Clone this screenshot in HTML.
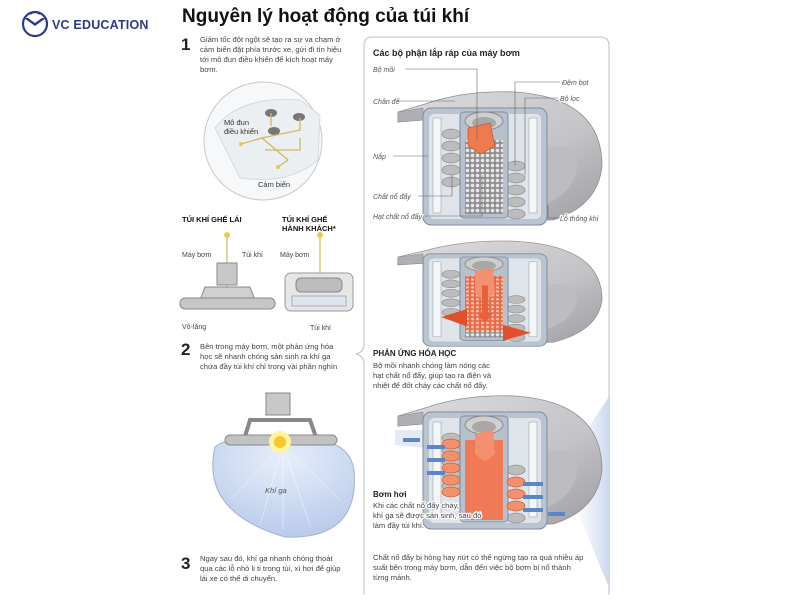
<!DOCTYPE html>
<html><head><meta charset="utf-8">
<style>
html,body{margin:0;padding:0;background:#fff;}
body{width:800px;height:600px;overflow:hidden;font-family:"Liberation Sans","Noto Sans CJK SC",sans-serif;}
svg text{font-family:"Liberation Sans","Noto Sans CJK SC",sans-serif;}
.halo{paint-order:stroke;stroke:#fff;stroke-width:2.5px;stroke-linejoin:round;}
</style></head><body>
<svg width="800" height="600" viewBox="0 0 800 600" xmlns="http://www.w3.org/2000/svg">
<defs>
<pattern id="pel" width="5" height="5" patternUnits="userSpaceOnUse">
<rect width="5" height="5" fill="#8f8f8f"/><circle cx="2.5" cy="2.5" r="1.8" fill="#e8e8e8"/>
</pattern>
<pattern id="pelr" width="5" height="5" patternUnits="userSpaceOnUse">
<rect width="5" height="5" fill="#e86a48"/><circle cx="2.5" cy="2.5" r="1.6" fill="#f8c0aa"/>
</pattern>
<radialGradient id="bag" cx="50%" cy="20%" r="80%">
<stop offset="0" stop-color="#e6eefb"/><stop offset="1" stop-color="#b9cbea"/>
</radialGradient>
<linearGradient id="disk" x1="0" y1="0" x2="1" y2="1">
<stop offset="0" stop-color="#dcdcde"/><stop offset="0.6" stop-color="#c4c4c7"/><stop offset="1" stop-color="#9d9da2"/>
</linearGradient>
<linearGradient id="cone" x1="1" y1="0" x2="0" y2="0">
<stop offset="0" stop-color="#c9d6ee"/><stop offset="1" stop-color="#ffffff" stop-opacity="0"/>
</linearGradient>
<g id="inf">
<path d="M3,24 L30,16 Q70,2 120,4 Q207,10 207,78 Q203,118 158,132 L152,132 L152,40 L28,40 L28,32 L3,34 Z" fill="url(#disk)" stroke="#8d8d92" stroke-width="0.8"/>
<path d="M152,60 Q182,52 182,80 Q178,105 152,115 Z" fill="#bdbdc1"/>
<path d="M3,24 L28,20 L28,32 L3,34 Z" fill="#b0b0b4" stroke="#8d8d92" stroke-width=".6"/>
<rect x="28" y="20" width="124" height="117" rx="8" fill="#b9c4d0" stroke="#7f8c9b"/>
<rect x="34" y="26" width="112" height="105" rx="5" fill="#dfe4ea"/>
<rect x="38" y="30" width="8" height="95" fill="#f4f5f7" stroke="#9aa6b3" stroke-width=".6"/>
<rect x="134" y="30" width="8" height="95" fill="#f4f5f7" stroke="#9aa6b3" stroke-width=".6"/>
<g fill="#bcbcbc" stroke="#808080" stroke-width=".6">
<ellipse cx="56" cy="46" rx="9" ry="5"/><ellipse cx="56" cy="58" rx="9" ry="5"/><ellipse cx="56" cy="70" rx="9" ry="5"/><ellipse cx="56" cy="82" rx="9" ry="5"/><ellipse cx="56" cy="94" rx="9" ry="5"/>
<ellipse cx="121" cy="78" rx="9" ry="5"/><ellipse cx="121" cy="90" rx="9" ry="5"/><ellipse cx="121" cy="102" rx="9" ry="5"/><ellipse cx="121" cy="114" rx="9" ry="5"/><ellipse cx="121" cy="126" rx="9" ry="5"/>
</g>
<rect x="65" y="24" width="48" height="106" rx="4" fill="#b6c1cd" stroke="#7f8c9b"/>
<rect x="70" y="52" width="38" height="74" fill="url(#pel)"/>
<ellipse cx="89" cy="33" rx="19" ry="9" fill="#cfcfcf" stroke="#8a8a8a"/>
<ellipse cx="89" cy="35" rx="12" ry="6" fill="#a8a8a8"/>
</g>
</defs>

<circle cx="35" cy="24" r="12" fill="none" stroke="#2b3a8c" stroke-width="2.2"/>
<path d="M24,18 L35,26 L46,18 L42,18 L35,23 L28,18 Z" fill="#2b3a8c"/>
<path d="M30,14 Q35,10 40,14" fill="none" stroke="#2b3a8c" stroke-width="2"/>
<text x="52" y="29" font-size="12.5" fill="#2b3a8c" font-weight="bold" letter-spacing=".2">VC EDUCATION</text>

<text x="182" y="22" font-size="19" font-weight="bold" fill="#111">Nguyên lý hoạt động của túi khí</text>

<path d="M372,37 L600,37 Q609,37 609,46 L609,595 M372,37 Q364,37 364,46 L364,344 Q364,352 356,354 Q364,356 364,364 L364,595" fill="none" stroke="#bfbfbf" stroke-width="1"/>

<text x="181" y="50" font-size="17" font-weight="bold" fill="#222">1</text>
<g font-size="7.6" fill="#444">
<text x="200" y="42">Giảm tốc đột ngột sẽ tạo ra sự va chạm ở</text>
<text x="200" y="52">cảm biến đặt phía trước xe, gửi đi tín hiệu</text>
<text x="200" y="62">tới mô đun điều khiển để kích hoạt máy</text>
<text x="200" y="72">bơm.</text>
</g>
<circle cx="263" cy="141" r="59" fill="#f7f8f9" stroke="#c8c8c8"/>
<path d="M215,128 Q240,95 300,100 L320,115 L318,160 Q290,185 240,178 Z" fill="#eceff2" stroke="#d6d9dd"/>
<ellipse cx="271" cy="113" rx="6" ry="4" fill="#777"/><ellipse cx="299" cy="117" rx="6" ry="4" fill="#777"/><ellipse cx="274" cy="131" rx="6" ry="4" fill="#777"/>
<g fill="none" stroke="#d2b860" stroke-width="1.3">
<path d="M241,144 L262,138 L288,160 L278,167 M262,138 L300,130 L300,118 M265,150 L300,150 L300,138 M271,113 L271,126"/>
</g>
<circle cx="241" cy="144" r="2" fill="#e8c84a"/><circle cx="278" cy="167" r="2" fill="#e8c84a"/>
<text x="224" y="125" font-size="7.5" fill="#333">Mô đun</text>
<text x="224" y="134" font-size="7.5" fill="#333">điều khiển</text>
<text x="258" y="187" font-size="7.5" fill="#333">Cảm biến</text>

<text x="182" y="222" font-size="7.5" font-weight="bold" fill="#111">TÚI KHÍ GHẾ LÁI</text>
<text x="282" y="222" font-size="7.5" font-weight="bold" fill="#111">TÚI KHÍ GHẾ</text>
<text x="282" y="231" font-size="7.5" font-weight="bold" fill="#111">HÀNH KHÁCH*</text>
<g font-size="7" fill="#444">
<text x="182" y="257">Máy bơm</text><text x="242" y="257">Túi khí</text>
<text x="280" y="257">Máy bơm</text>
<text x="182" y="329">Vô-lăng</text><text x="310" y="330">Túi khí</text>
</g>
<line x1="227" y1="236" x2="227" y2="295" stroke="#c8a840" stroke-width="1"/>
<circle cx="227" cy="235" r="3" fill="#f0c84a"/>
<rect x="217" y="263" width="20" height="22" fill="#c8c8c8" stroke="#888"/>
<path d="M200,300 L205,287 L250,287 L255,300 Z" fill="#d0d0d0" stroke="#888"/>
<rect x="180" y="298" width="95" height="11" rx="5" fill="#c6c6c6" stroke="#888"/>
<line x1="320" y1="236" x2="320" y2="278" stroke="#c8a840" stroke-width="1"/>
<circle cx="320" cy="235" r="3" fill="#f0c84a"/>
<rect x="285" y="273" width="68" height="38" rx="6" fill="#e6e6e6" stroke="#999"/>
<rect x="296" y="278" width="46" height="14" rx="5" fill="#bdbdbd" stroke="#888"/>
<rect x="292" y="296" width="54" height="10" fill="#dde4ee" stroke="#aab"/>

<text x="181" y="355" font-size="17" font-weight="bold" fill="#222">2</text>
<g font-size="7.6" fill="#444">
<text x="200" y="349">Bên trong máy bơm, một phản ứng hóa</text>
<text x="200" y="359">học sẽ nhanh chóng sản sinh ra khí ga</text>
<text x="200" y="369">chứa đầy túi khí chỉ trong vài phần nghìn</text>
</g>
<path d="M215,447 Q200,512 285,537 Q360,540 354,470 Q350,445 320,440 L245,440 Q222,440 215,447 Z" fill="url(#bag)" stroke="#9fb3d6"/>
<g stroke="#fff" stroke-width=".5" opacity=".8">
<line x1="283" y1="445" x2="230" y2="500"/><line x1="283" y1="445" x2="260" y2="525"/><line x1="283" y1="445" x2="283" y2="530"/><line x1="283" y1="445" x2="310" y2="525"/><line x1="283" y1="445" x2="340" y2="500"/>
</g>
<rect x="266" y="393" width="24" height="22" fill="#c8c8c8" stroke="#888"/>
<path d="M243,443 L250,420 L310,420 L318,443 Z" fill="none" stroke="#888" stroke-width="4"/>
<rect x="225" y="435" width="112" height="10" rx="5" fill="#c2c2c2" stroke="#888"/>
<circle cx="280" cy="442" r="11" fill="#fff3a0"/>
<circle cx="280" cy="442" r="6" fill="#f5c830"/>
<text x="265" y="493" font-size="7.5" font-style="italic" fill="#555">Khí ga</text>

<text x="181" y="569" font-size="17" font-weight="bold" fill="#222">3</text>
<g font-size="7.6" fill="#444">
<text x="200" y="561">Ngay sau đó, khí ga nhanh chóng thoát</text>
<text x="200" y="571">qua các lỗ nhỏ li ti trong túi, xì hơi để giúp</text>
<text x="200" y="581">lái xe có thể di chuyển.</text>
</g>

<text x="373" y="56" font-size="9" font-weight="bold" fill="#222">Các bộ phận lắp ráp của máy bơm</text>

<g transform="translate(395,88)">
<use href="#inf"/>
<path d="M73,40 L95,35 L100,58 L86,66 L73,58 Z" fill="#f07a50" stroke="#c04a20" stroke-width=".6"/>
</g>

<g transform="translate(395,238) scale(1,0.79)">
<use href="#inf"/>
<rect x="70" y="48" width="38" height="70" fill="url(#pelr)"/>
<path d="M80,42 L98,38 L100,70 L90,80 L80,70 Z" fill="#f39070"/>
<path d="M87,60 L93,60 L93,95 L98,95 L90,108 L82,95 L87,95 Z" fill="#e8603a"/>
<path d="M46,100 L72,90 L72,112 Z" fill="#e0502c"/><path d="M136,120 L108,110 L108,130 Z" fill="#e0502c"/>
</g>

<path d="M560,470 L610,395 L610,590 Z" fill="url(#cone)"/>
<path d="M395,430 L425,430 L425,448 L395,445 Z" fill="#e3eaf6"/>
<g transform="translate(395,392)">
<use href="#inf"/>
<path d="M70,48 L108,48 L108,128 L70,128 Z" fill="#f07a55"/>
<path d="M80,42 L98,38 L100,62 L90,70 L80,62 Z" fill="#f39070"/>
<g fill="#f5906a" stroke="#c0502c" stroke-width=".6">
<ellipse cx="56" cy="52" rx="9" ry="5"/><ellipse cx="56" cy="64" rx="9" ry="5"/><ellipse cx="56" cy="76" rx="9" ry="5"/><ellipse cx="56" cy="88" rx="9" ry="5"/><ellipse cx="56" cy="100" rx="9" ry="5"/>
<ellipse cx="121" cy="90" rx="9" ry="5"/><ellipse cx="121" cy="102" rx="9" ry="5"/><ellipse cx="121" cy="114" rx="9" ry="5"/>
</g>
<g stroke="#5d86c7" stroke-width="4" fill="none">
<line x1="50" y1="55" x2="32" y2="55"/><line x1="50" y1="68" x2="32" y2="68"/><line x1="50" y1="81" x2="32" y2="81"/>
<line x1="25" y1="48" x2="8" y2="48"/>
<line x1="128" y1="92" x2="148" y2="92"/><line x1="128" y1="105" x2="148" y2="105"/><line x1="128" y1="118" x2="148" y2="118"/>
<line x1="153" y1="122" x2="170" y2="122"/>
</g>
</g>

<g font-size="7" font-style="italic" fill="#555" class="halo">
<text x="373" y="72">Bộ mồi</text>
<text x="373" y="104">Chân đế</text>
<text x="373" y="159">Nắp</text>
<text x="373" y="199">Chất nổ đẩy</text>
<text x="373" y="219">Hạt chất nổ đẩy</text>
<text x="562" y="85">Đệm bọt</text>
<text x="560" y="101">Bộ lọc</text>
<text x="560" y="221">Lỗ thông khí</text>
</g>
<g stroke="#666" stroke-width=".6" fill="none">
<path d="M405,69 L477,69 L477,140"/>
<line x1="398" y1="101" x2="455" y2="101"/>
<line x1="393" y1="156" x2="428" y2="156"/>
<path d="M418,196 L452,196 L452,175"/>
<path d="M425,216 L482,216 L482,175"/>
<path d="M560,82 L515,82 L515,165"/>
<path d="M558,98 L525,98 L525,175"/>
<path d="M558,218 L548,218 L548,205"/>
</g>

<g class="halo">
<text x="373" y="356" font-size="8" font-weight="bold" fill="#222">PHẢN ỨNG HÓA HỌC</text>
<g font-size="7.6" fill="#444">
<text x="373" y="368">Bộ mồi nhanh chóng làm nóng các</text>
<text x="373" y="378">hạt chất nổ đẩy, giúp tạo ra điện và</text>
<text x="373" y="388">nhiệt để đốt cháy các chất nổ đẩy.</text>
</g>
<text x="373" y="497" font-size="8" font-weight="bold" fill="#222">Bơm hơi</text>
<g font-size="7.6" fill="#444">
<text x="373" y="508">Khi các chất nổ đẩy cháy,</text>
<text x="373" y="518">khí ga sẽ được sản sinh, sau đó</text>
<text x="373" y="528">làm đầy túi khí.</text>
</g>
</g>
<g font-size="7.6" fill="#444">
<text x="373" y="560">Chất nổ đẩy bị hỏng hay nứt có thể ngừng tạo ra quá nhiều áp</text>
<text x="373" y="570">suất bên trong máy bơm, dẫn đến việc bộ bơm bị nổ thành</text>
<text x="373" y="580">từng mảnh.</text>
</g>
</svg>
</body></html>
